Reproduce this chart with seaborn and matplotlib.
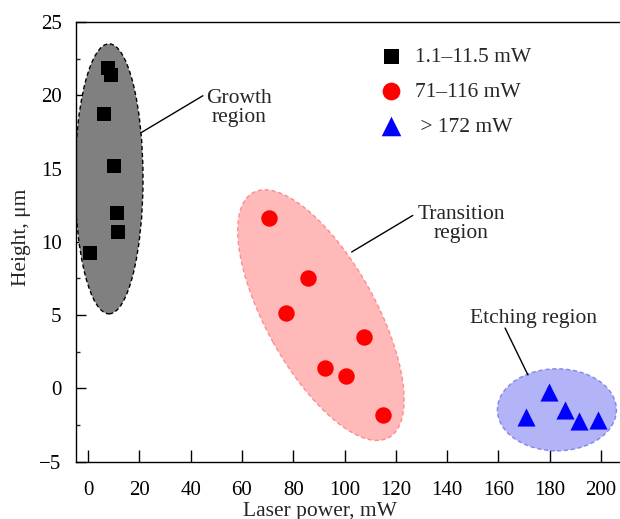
import matplotlib

matplotlib.use("Agg")
import matplotlib.pyplot as plt
import numpy as np
import pandas as pd
import seaborn as sns
from matplotlib.patches import Ellipse
from matplotlib.ticker import MultipleLocator
from matplotlib.transforms import Affine2D

# data
growth_power = [7.9, 8.85, 6.35, 10.1, 11.2, 11.7, 0.8]
growth_height = [21.85, 21.4, 18.7, 15.2, 11.95, 10.7, 9.27]
transition_power = [70.4, 85.6, 77.2, 107.6, 92.3, 100.5, 114.9]
transition_height = [11.6, 7.5, 5.16, 3.52, 1.37, 0.87, -1.82]
etching_power = [179.6, 170.6, 186.0, 191.4, 198.7]
etching_height = [-0.25, -1.98, -1.46, -2.2, -2.14]
group_labels = ["1.1\u201311.5 mW", "71\u2013116 mW", " > 172 mW"]

x_ticks = list(range(0, 201, 20))
y_ticks = [-5, 0, 5, 10, 15, 20, 25]

# region ellipses: centre in data units, size in pixels, angle in degrees
regions = [
    dict(center=(8.2, 14.3), w=68, h=270, angle=0, fc="#808080", ec="black"),
    dict(center=(90.8, 5.0), w=280, h=110, angle=-61, fc="#ffb9b9", ec="#ff8c8c"),
    dict(center=(182.8, -1.46), w=119, h=82, angle=0, fc="#b3b3f7", ec="#8585f0"),
]

FIG_W, FIG_H, DPI = 620, 519, 100
AX_LEFT, AX_RIGHT, AX_TOP, AX_BOTTOM = 75.5, 620, 22, 461.7
XLIM = (-4.87, 207.4)
YLIM = (-5, 25)


def main() -> None:
    sns.set_theme(style="ticks")
    plt.rcParams["font.family"] = ["Liberation Serif", "DejaVu Serif"]
    fs = 15.5
    tick_fs = 15

    fig = plt.figure(figsize=(FIG_W / DPI, FIG_H / DPI), dpi=DPI)
    ax = fig.add_axes([
        AX_LEFT / FIG_W,
        1 - AX_BOTTOM / FIG_H,
        (AX_RIGHT - AX_LEFT) / FIG_W,
        (AX_BOTTOM - AX_TOP) / FIG_H,
    ])
    ax.set_xlim(*XLIM)
    ax.set_ylim(*YLIM)

    px_x = (AX_RIGHT - AX_LEFT) / (XLIM[1] - XLIM[0])
    px_y = (AX_BOTTOM - AX_TOP) / (YLIM[1] - YLIM[0])

    for r in regions:
        tr = Affine2D().scale(1 / px_x, 1 / px_y).translate(*r["center"]) + ax.transData
        ax.add_patch(Ellipse((0, 0), r["w"], r["h"], angle=r["angle"], transform=tr,
                             facecolor=r["fc"], edgecolor=r["ec"], lw=1.0,
                             linestyle=(0, (3, 2)), zorder=1))

    df = pd.DataFrame({
        "power": growth_power + transition_power + etching_power,
        "height": growth_height + transition_height + etching_height,
        "group": [group_labels[0]] * len(growth_power)
        + [group_labels[1]] * len(transition_power)
        + [group_labels[2]] * len(etching_power),
    })
    styles = [("s", "black", 100), ("o", "#ff0000", 140), ("^", "#0000ff", 170)]
    for label, (marker, color, size) in zip(group_labels, styles):
        sns.scatterplot(data=df[df["group"] == label], x="power", y="height",
                        marker=marker, color=color, s=size, linewidth=0,
                        label=label, zorder=3, ax=ax)

    ax.legend(loc="upper left", bbox_to_anchor=(369 / FIG_W, 1 - 36 / FIG_H),
              bbox_transform=fig.transFigure, frameon=False, fontsize=fs,
              handlelength=1.0, handletextpad=0.65, labelspacing=0.7, borderpad=0,
              markerscale=1.08)

    # annotation leaders and texts
    ax.plot([20.7, 44.8], [17.45, 19.97], color="black", lw=1.0, zorder=2)
    ax.text(59.0, 19.1, "Growth\nregion", ha="center", va="center",
            fontsize=fs, linespacing=1.0)
    ax.plot([102.8, 126.6], [9.31, 11.8], color="black", lw=1.0, zorder=2)
    ax.text(145.5, 11.2, "Transition\nregion", ha="center", va="center",
            fontsize=fs, linespacing=1.0)
    ax.plot([162.6, 171.5], [4.12, 0.92], color="black", lw=1.0, zorder=2)
    ax.text(173.5, 4.8, "Etching region", ha="center", va="center", fontsize=fs)

    ax.set_xticks(x_ticks)
    ax.set_yticks(y_ticks)
    ax.set_yticklabels([str(v).replace("-", "\u2212") for v in y_ticks])
    ax.yaxis.set_minor_locator(MultipleLocator(2.5))
    ax.tick_params(axis="x", direction="in", length=8.6, width=1.0, pad=14,
                   labelsize=tick_fs, colors="black")
    ax.tick_params(axis="y", which="major", direction="in", length=7, width=1.0,
                   pad=10, labelsize=tick_fs, colors="black")
    ax.tick_params(axis="y", which="minor", direction="in", length=3, width=1.0)

    for side in ["left", "bottom", "top"]:
        ax.spines[side].set_color("black")
        ax.spines[side].set_linewidth(1.0)
    ax.spines["right"].set_visible(False)

    ax.set_xlabel("Laser power, mW", fontsize=fs)
    ax.set_ylabel("Height, \u03bcm", fontsize=fs)
    ax.xaxis.set_label_coords((320 - AX_LEFT) / (AX_RIGHT - AX_LEFT), -0.092)
    ax.yaxis.set_label_coords(-(AX_LEFT - 31) / (AX_RIGHT - AX_LEFT), 0.51)

    fig.savefig("out.png", dpi=DPI)
    plt.close(fig)


if __name__ == "__main__":
    main()
